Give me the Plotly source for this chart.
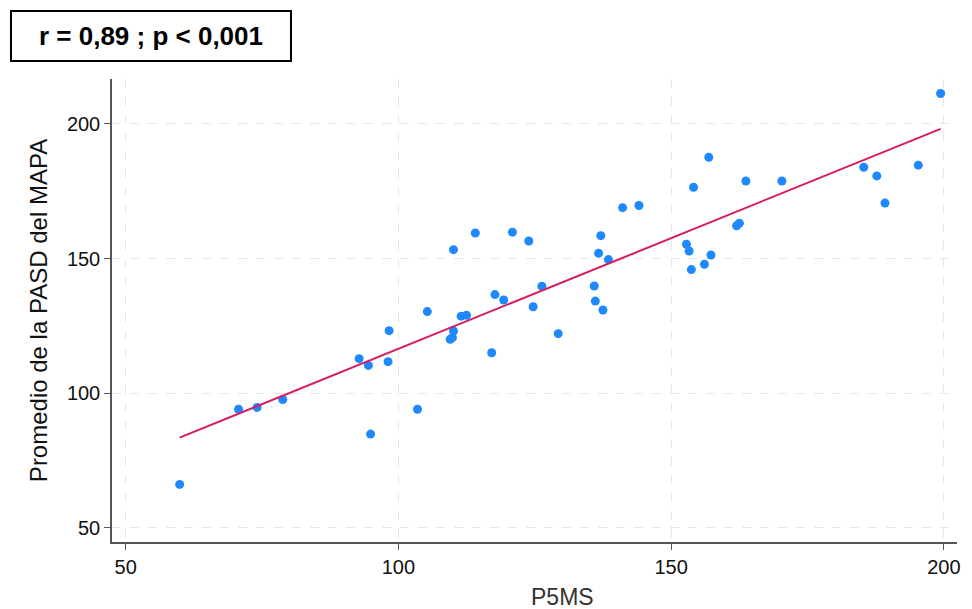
import numpy as np
import plotly.graph_objects as go

# P5MS values (x) and Promedio de la PASD del MAPA (y)
p5ms = [59.9, 70.7, 74.1, 78.8, 92.8, 94.5, 94.9, 98.3, 98.1, 103.5,
        105.3, 110.1, 110.1, 109.5, 109.9, 111.5, 112.5, 114.1, 117.1, 117.7,
        119.3, 120.9, 123.9, 124.7, 126.3, 129.3, 135.9, 136.1, 137.5, 136.7,
        137.1, 138.5, 141.1, 144.1, 152.8, 153.3, 153.7, 154.1, 156.1, 157.3,
        156.9, 162.0, 162.5, 163.7, 170.3, 185.3, 187.7, 189.2, 195.3, 199.4]
pasd = [66.1, 94.0, 94.7, 97.6, 112.8, 110.3, 84.8, 123.2, 111.7, 94.0,
        130.3, 153.3, 123.1, 120.0, 120.6, 128.6, 128.9, 159.5, 115.0, 136.6,
        134.6, 159.8, 156.5, 132.1, 139.7, 122.1, 139.8, 134.2, 130.9, 152.0,
        158.5, 149.6, 168.9, 169.7, 155.3, 152.8, 145.9, 176.5, 147.9, 151.3,
        187.6, 162.2, 163.1, 178.8, 178.8, 183.9, 180.7, 170.6, 184.7, 211.3]

x_ticks = [50, 100, 150, 200]
y_ticks = [50, 100, 150, 200]
x_title = "P5MS"
y_title = "Promedio de la PASD del MAPA"
stat_label = "r = 0,89 ; p < 0,001"

x = np.array(p5ms)
y = np.array(pasd)
slope, intercept = np.polyfit(x, y, 1)
fit_x = np.array([x.min(), x.max()])
fit_y = intercept + slope * fit_x

FONT = "Liberation Sans, Arial, sans-serif"

fig = go.Figure()
fig.add_trace(go.Scatter(
    x=p5ms, y=pasd, mode="markers",
    marker=dict(color="#1E88FF", size=9, line=dict(width=0)),
    showlegend=False,
))
fig.add_trace(go.Scatter(
    x=fit_x, y=fit_y, mode="lines",
    line=dict(color="#D81B60", width=2),
    showlegend=False,
))

axis_common = dict(
    showline=True, linecolor="#555555", linewidth=1.5,
    ticks="outside", ticklen=6, tickcolor="#555555", tickwidth=1.2,
    showgrid=True, gridcolor="#E6E6E6", griddash="dash", gridwidth=1.2,
    zeroline=False, mirror=False,
    tickfont=dict(family=FONT, size=20, color="#111111"),
)

fig.update_xaxes(range=[47.5, 202.4], tickvals=x_ticks, **axis_common)
fig.update_yaxes(
    range=[44.7, 216.7], tickvals=y_ticks,
    title=dict(text=y_title, font=dict(family=FONT, size=24, color="#111111"), standoff=12),
    **axis_common,
)

# x-axis title (sits right of centre in the reference)
fig.add_annotation(
    text=x_title, xref="paper", yref="paper",
    x=(565 - 112) / 849, y=(542 - 597) / 463,
    xanchor="center", yanchor="middle", showarrow=False,
    font=dict(family=FONT, size=23, color="#333333"),
)

fig.add_annotation(
    text="<b>" + stat_label + "</b>",
    xref="paper", yref="paper", x=(151 - 112) / 849, y=(542 - 36) / 463,
    xanchor="center", yanchor="middle", showarrow=False,
    font=dict(family=FONT, size=26, color="#000000"),
    bordercolor="#000000", borderwidth=2, borderpad=1,
    width=276, height=46, bgcolor="white",
)

# page body has an 8px default margin; compensate so the plot area lands at
# x 112..961, y 79..542 of the 972x609 window
fig.update_layout(
    width=964, height=601,
    margin=dict(l=104, r=11, t=71, b=67),
    paper_bgcolor="white", plot_bgcolor="white",
)

fig.write_html("out.html")
